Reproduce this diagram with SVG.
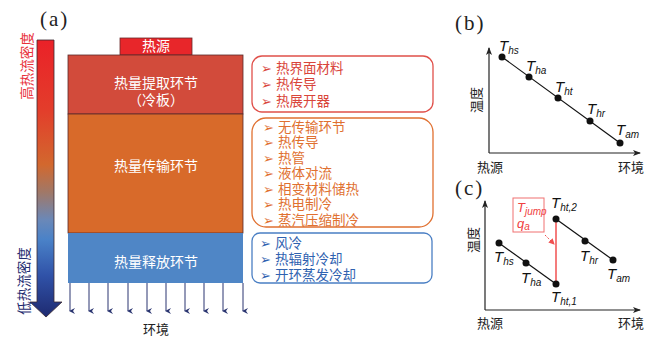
<svg xmlns="http://www.w3.org/2000/svg" width="649" height="340" viewBox="0 0 649 340">
<defs>
<linearGradient id="flux" gradientUnits="userSpaceOnUse" x1="0" y1="40" x2="0" y2="317">
<stop offset="0" stop-color="#ea2128"/>
<stop offset="0.25" stop-color="#e33d2b"/>
<stop offset="0.45" stop-color="#d2682e"/>
<stop offset="0.55" stop-color="#a07868"/>
<stop offset="0.65" stop-color="#6a88b8"/>
<stop offset="0.72" stop-color="#4a82c8"/>
<stop offset="0.85" stop-color="#3052a8"/>
<stop offset="1" stop-color="#1e2a70"/>
</linearGradient>
<marker id="dn" markerWidth="6" markerHeight="6" refX="3" refY="5" orient="auto" markerUnits="userSpaceOnUse" viewBox="0 0 6 6">
<path d="M0,0 L3,6 L6,0 L3,2 Z" fill="#2a3570"/>
</marker>
<marker id="ax" markerWidth="8" markerHeight="8" refX="7" refY="4" orient="auto" markerUnits="userSpaceOnUse" viewBox="0 0 8 8">
<path d="M0,1 L8,4 L0,7 L2,4 Z" fill="#222"/>
</marker>
<marker id="ra" markerWidth="6" markerHeight="6" refX="5" refY="3" orient="auto" markerUnits="userSpaceOnUse" viewBox="0 0 6 6">
<path d="M0,0 L6,3 L0,6 Z" fill="#f05050"/>
</marker>
</defs>
<style>
.cn{font-family:"Liberation Sans","Noto Sans CJK SC",sans-serif;}
.lbl{font-family:"Liberation Serif",serif;font-size:21px;fill:#222;letter-spacing:2px;}
.wt{fill:#fff;font-size:14px;}
.it{font-family:"Liberation Sans","Noto Sans CJK SC",sans-serif;font-size:13.5px;}
.bul{font-family:"DejaVu Sans",sans-serif;font-size:13px;}
.red{fill:#d9453a;}
.org{fill:#e07030;}
.blu{fill:#2f62b0;}
.T{font-family:"Liberation Sans",Arial,sans-serif;font-style:italic;font-size:15px;fill:#111;}
.s{font-size:10px;}
.ax{stroke:#222;stroke-width:1.2;fill:none;marker-end:url(#ax);}
.dot{fill:#111;}
.axl{font-family:"Liberation Sans","Noto Sans CJK SC",sans-serif;font-size:13px;fill:#222;}
</style>

<!-- panel a -->
<text class="lbl" x="40" y="26">(a)</text>
<g id="flux-arrow">
<polygon points="37,40 54,40 54,302 62,302 46,317 30,302 37,302" fill="url(#flux)" stroke="#3a2a30" stroke-width="0.8"/>
<text class="cn" x="0" y="0" transform="translate(32,66) rotate(-90)" text-anchor="middle" font-size="13.5" fill="#e8303a">高热流密度</text>
<text class="cn" x="0" y="0" transform="translate(29,281) rotate(-90)" text-anchor="middle" font-size="13.5" fill="#1f2c70">低热流密度</text>
</g>

<g id="source">
<rect x="120" y="38" width="72" height="17" fill="#e8262a" stroke="#6a2a2a" stroke-width="0.8"/>
<text class="cn wt" x="156" y="51" text-anchor="middle" font-size="12">热源</text>
</g>
<g id="extraction">
<rect x="68" y="55" width="175" height="59" fill="#d24b3b" stroke="#5a2a2a" stroke-width="0.8"/>
<text class="cn wt" x="156" y="88" text-anchor="middle">热量提取环节</text>
<text class="cn wt" x="156" y="105" text-anchor="middle">（冷板）</text>
</g>
<g id="transport">
<rect x="68" y="114" width="175" height="119" fill="#d86a2a" stroke="#5a2a2a" stroke-width="0.8"/>
<text class="cn wt" x="156" y="171" text-anchor="middle">热量传输环节</text>
</g>
<g id="release">
<rect x="68" y="233" width="175" height="50" fill="#4f86c6"/>
<text class="cn wt" x="156" y="267" text-anchor="middle">热量释放环节</text>
</g>
<g id="connectors" stroke="#2a3570" stroke-width="1" marker-end="url(#dn)">
<line x1="70" y1="283" x2="70" y2="311"/>
<line x1="89" y1="283" x2="89" y2="311"/>
<line x1="108" y1="283" x2="108" y2="311"/>
<line x1="128" y1="283" x2="128" y2="311"/>
<line x1="147" y1="283" x2="147" y2="311"/>
<line x1="166" y1="283" x2="166" y2="311"/>
<line x1="185" y1="283" x2="185" y2="311"/>
<line x1="204" y1="283" x2="204" y2="311"/>
<line x1="223" y1="283" x2="223" y2="311"/>
<line x1="243" y1="283" x2="243" y2="311"/>
</g>
<g id="environment">
<text class="cn" x="156" y="334" text-anchor="middle" font-size="13" fill="#222">环境</text>
</g>

<g id="list-extraction">
<rect x="252" y="56" width="181" height="56" rx="10" fill="#fff" stroke="#e0504a" stroke-width="1.3"/>
<text class="bul red" x="261" y="73">➢</text><text class="it red" x="276" y="73">热界面材料</text>
<text class="bul red" x="261" y="89">➢</text><text class="it red" x="276" y="89">热传导</text>
<text class="bul red" x="261" y="106">➢</text><text class="it red" x="276" y="106">热展开器</text>
</g>
<g id="list-transport">
<rect x="252" y="118" width="181" height="109" rx="14" fill="#fff" stroke="#e07030" stroke-width="1.3"/>
<text class="bul org" x="263" y="132">➢</text><text class="it org" x="278" y="132">无传输环节</text>
<text class="bul org" x="263" y="147">➢</text><text class="it org" x="278" y="147">热传导</text>
<text class="bul org" x="263" y="163">➢</text><text class="it org" x="278" y="163">热管</text>
<text class="bul org" x="263" y="178">➢</text><text class="it org" x="278" y="178">液体对流</text>
<text class="bul org" x="263" y="194">➢</text><text class="it org" x="278" y="194">相变材料储热</text>
<text class="bul org" x="263" y="209">➢</text><text class="it org" x="278" y="209">热电制冷</text>
<text class="bul org" x="263" y="225">➢</text><text class="it org" x="278" y="225">蒸汽压缩制冷</text>
</g>
<g id="list-release">
<rect x="252" y="233" width="180" height="50" rx="8" fill="#fff" stroke="#4a7fc4" stroke-width="1.3"/>
<text class="bul blu" x="260" y="248">➢</text><text class="it blu" x="275" y="248">风冷</text>
<text class="bul blu" x="260" y="264">➢</text><text class="it blu" x="275" y="264">热辐射冷却</text>
<text class="bul blu" x="260" y="280">➢</text><text class="it blu" x="275" y="280">开环蒸发冷却</text>
</g>

<!-- panel b -->
<text class="lbl" x="455" y="30">(b)</text>
<g id="axes-b">
<path class="ax" d="M489,153 L489,48"/>
<path class="ax" d="M489,153 L640,153"/>
<text class="axl" x="0" y="0" transform="translate(481,100) rotate(-90)" text-anchor="middle">温度</text>
<text class="axl" x="490" y="172" text-anchor="middle">热源</text>
<text class="axl" x="631" y="172" text-anchor="middle">环境</text>
</g>
<g id="curve-b">
<line x1="502" y1="57" x2="620" y2="143" stroke="#111" stroke-width="1.2"/>
<circle class="dot" cx="502" cy="57" r="3.5"/>
<circle class="dot" cx="529" cy="77" r="3.5"/>
<circle class="dot" cx="558" cy="98" r="3.5"/>
<circle class="dot" cx="590" cy="121" r="3.5"/>
<circle class="dot" cx="620" cy="143" r="3.5"/>
<text class="T" x="499" y="51">T<tspan class="s" dy="3">hs</tspan></text>
<text class="T" x="526" y="71">T<tspan class="s" dy="3">ha</tspan></text>
<text class="T" x="555" y="92">T<tspan class="s" dy="3">ht</tspan></text>
<text class="T" x="587" y="114">T<tspan class="s" dy="3">hr</tspan></text>
<text class="T" x="616" y="135">T<tspan class="s" dy="3">am</tspan></text>
</g>

<!-- panel c -->
<text class="lbl" x="455" y="195">(c)</text>
<g id="axes-c">
<path class="ax" d="M485,310 L485,201"/>
<path class="ax" d="M485,310 L640,310"/>
<text class="axl" x="0" y="0" transform="translate(478,240) rotate(-90)" text-anchor="middle">温度</text>
<text class="axl" x="490" y="328" text-anchor="middle">热源</text>
<text class="axl" x="631" y="328" text-anchor="middle">环境</text>
</g>
<g id="curve-c">
<line x1="499" y1="243" x2="556" y2="284" stroke="#111" stroke-width="1.2"/>
<line x1="556" y1="219" x2="613" y2="260" stroke="#111" stroke-width="1.2"/>
<line x1="556" y1="284" x2="556" y2="219" stroke="#f05050" stroke-width="1.5"/>
<circle class="dot" cx="499" cy="243" r="3.5"/>
<circle class="dot" cx="526" cy="263" r="3.5"/>
<circle class="dot" cx="556" cy="284" r="3.5"/>
<circle class="dot" cx="556" cy="219" r="3.5"/>
<circle class="dot" cx="585" cy="241" r="3.5"/>
<circle class="dot" cx="613" cy="260" r="3.5"/>
<text class="T" x="494" y="262">T<tspan class="s" dy="3">hs</tspan></text>
<text class="T" x="521" y="283">T<tspan class="s" dy="3">ha</tspan></text>
<text class="T" x="551" y="302">T<tspan class="s" dy="3">ht,1</tspan></text>
<text class="T" x="551" y="208">T<tspan class="s" dy="3">ht,2</tspan></text>
<text class="T" x="580" y="261">T<tspan class="s" dy="3">hr</tspan></text>
<text class="T" x="607" y="279">T<tspan class="s" dy="3">am</tspan></text>
</g>
<g id="jump-note">
<rect x="513" y="198" width="31" height="34" fill="#fff" stroke="#f07070" stroke-width="1"/>
<text class="T" x="517" y="212" style="fill:#f04040;font-size:13px">T<tspan class="s" dy="3">jump</tspan></text>
<text class="T" x="517" y="228" style="fill:#f04040;font-size:13px">q<tspan class="s" dy="2">a</tspan></text>
<line x1="545" y1="235" x2="554" y2="244" stroke="#f05050" stroke-width="1" stroke-dasharray="2,1.5" marker-end="url(#ra)"/>
</g>
</svg>
